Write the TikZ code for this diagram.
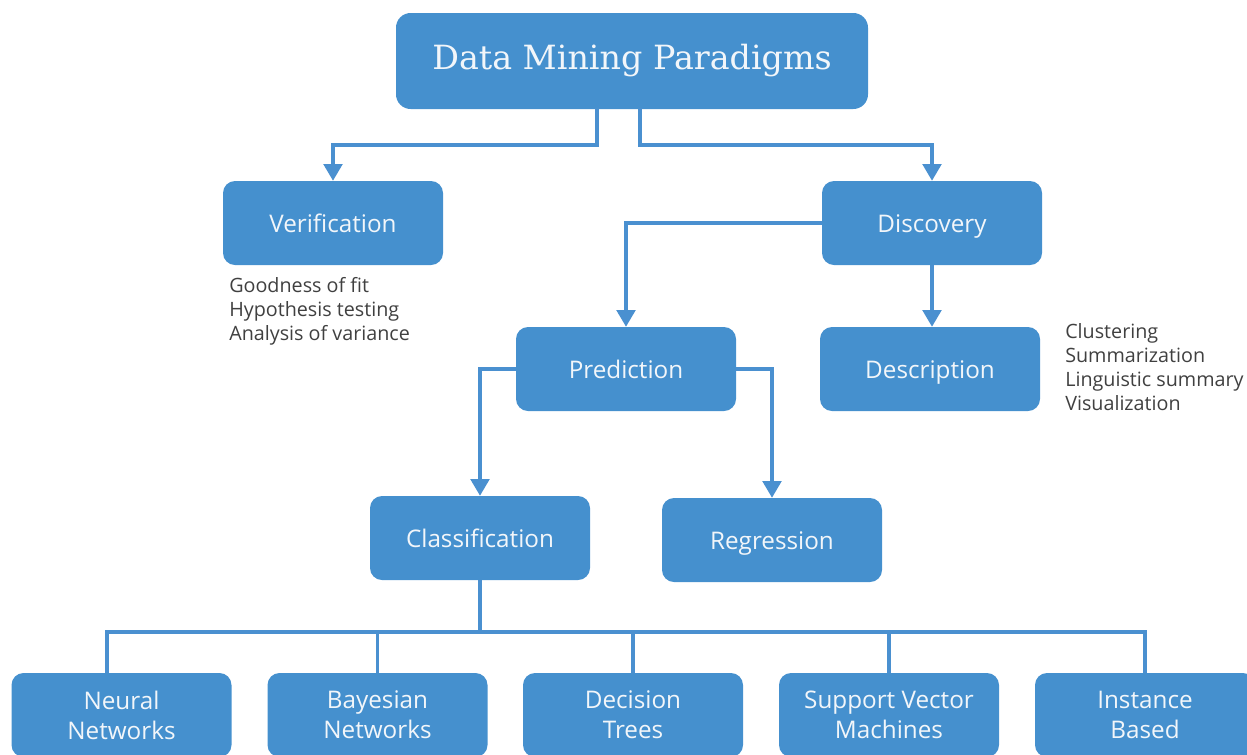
\documentclass[tikz,border=0pt]{standalone}
\usepackage{fontspec}
\setmainfont{Open Sans}
\newfontfamily\titlefont{DejaVu Serif}
\usetikzlibrary{arrows.meta}
\definecolor{boxblue}{HTML}{4590CE}
\definecolor{lineblue}{HTML}{4A90D0}
\definecolor{boxtext}{HTML}{F2F6FA}
\definecolor{graytext}{HTML}{404040}
\tikzset{
  box/.style={fill=boxblue, draw=none, rounded corners=9pt, minimum width=165pt, minimum height=63pt,
    inner sep=0pt, text=boxtext, font=\fontsize{18.2}{22.5}\selectfont, align=center},
  onebox/.style={box, text height=13.5pt, text depth=0pt},
  titlebox/.style={fill=boxblue, draw=none, rounded corners=11pt, minimum width=354pt, minimum height=72pt,
    inner sep=0pt, text=boxtext, font=\titlefont\fontsize{25}{30}\selectfont},
  conn/.style={draw=lineblue, line width=2.4pt},
  arr/.style={conn, -{Triangle[length=12.5pt,width=14pt]}},
  notes/.style={text=graytext, font=\fontsize{14.8}{18}\selectfont, align=left, inner sep=0pt, anchor=north west}
}
\begin{document}
\begin{tikzpicture}[x=0.75pt,y=-0.75pt]
\useasboundingbox (0,0) rectangle (1247,754);
\begin{scope}
\clip (0,0) rectangle (1247,754);
\node[titlebox] (title) at (632,61) {Data Mining Paradigms};
\node[onebox] (verif) at (333,223) {Verification};
\node[onebox] (disc) at (932,223) {Discovery};
\node[onebox] (pred) at (626,369) {Prediction};
\node[onebox] (desc) at (930,369) {Description};
\node[onebox] (class) at (480,538) {Classification};
\node[onebox] (regr) at (772,540) {Regression};
\node[box] (nn) at (121.5,715) {Neural\\Networks};
\node[box] (bn) at (377.5,715) {Bayesian\\Networks};
\node[box] (dt) at (633,715) {Decision\\Trees};
\node[box] (svm) at (889,715) {Support Vector\\Machines};
\node[box] (ib) at (1145,715) {Instance\\Based};

\node[notes] (vnotes) at (229,277) {Goodness of fit\\Hypothesis testing\\Analysis of variance};
\node[notes] (dnotes) at (1065,323) {Clustering\\Summarization\\Linguistic summary\\Visualization};

\coordinate (tl) at (597,108);
\coordinate (tr) at (640,108);
\draw[arr] (tl) -- (597,145) -| (verif.north);
\draw[arr] (tr) -- (640,145) -| (disc.north);
\draw[arr] (disc.west) -| (pred.north);
\draw[arr] (disc.south) -- (disc.south |- desc.north);
\draw[arr] (pred.west) -| (class.north);
\draw[arr] (pred.east) -| (regr.north);
\coordinate (hub) at (480,632);
\coordinate (nntop) at (107,673);
\draw[conn] (class.south) -- (hub);
\draw[conn] (hub) -| (nntop);
\draw[conn] (hub) -| (bn.north);
\draw[conn] (hub) -| (dt.north);
\draw[conn] (hub) -| (svm.north);
\draw[conn] (hub) -| (ib.north);
\end{scope}
\end{tikzpicture}
\end{document}
